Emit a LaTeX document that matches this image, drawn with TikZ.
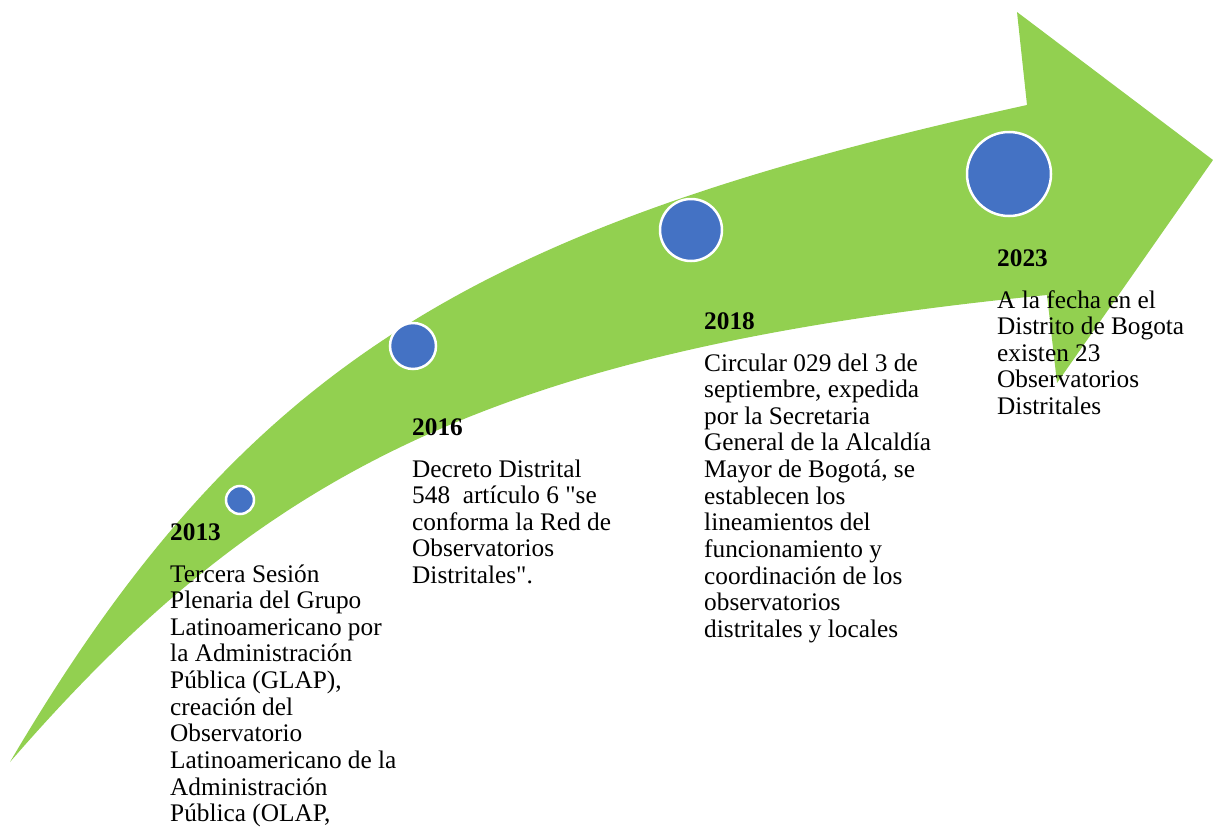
\documentclass[tikz,border=0pt]{standalone}
\usepackage{fontspec}
\setmainfont{Liberation Serif}
\definecolor{arrowgreen}{RGB}{146,208,80}
\definecolor{dotblue}{RGB}{68,114,196}
\tikzset{
yeardot/.style={circle,fill=dotblue,draw=white,line width=2.5pt,inner sep=0pt},
eventtext/.style={anchor=north west,inner sep=0pt,align=left,scale=1.1,transform shape,
  font=\fontsize{23}{24.2}\selectfont}
}

\begin{document}
\begin{tikzpicture}[x=1pt,y=-1pt]
\useasboundingbox (0,0) rectangle (1213,827);
% big curved arrow
\fill[arrowgreen] (10,762) .. controls (245,362) and (477,226) .. (1027,105)
  -- (1017,12) -- (1213,160) -- (1057,383) -- (1047,295)
  .. controls (487,351) and (260,474) .. (10,762) -- cycle;
% dots
\node[yeardot,minimum size=28pt] (d2013) at (240,500) {};
\node[yeardot,minimum size=46pt] (d2016) at (413,346) {};
\node[yeardot,minimum size=62pt] (d2018) at (691,230) {};
\node[yeardot,minimum size=84pt] (d2023) at (1009,174) {};
% texts
\node[eventtext] (t2013) at (170,523) {\textbf{2013}\\[14pt]
Tercera Sesión\\ Plenaria del Grupo\\ Latinoamericano por\\ la Administración\\
Pública (GLAP),\\ creación del\\ Observatorio\\ Latinoamericano de la\\
Administración\\ Pública (OLAP,};
\node[eventtext] (t2016) at (412,418) {\textbf{2016}\\[14pt]
Decreto Distrital\\ 548\ \ artículo 6 \textquotedbl se\\ conforma la Red de\\ Observatorios\\ Distritales\textquotedbl.};
\node[eventtext] (t2018) at (704,312) {\textbf{2018}\\[14pt]
Circular 029 del 3 de\\ septiembre, expedida\\ por la Secretaria\\ General de la Alcaldía\\
Mayor de Bogotá, se\\ establecen los\\ lineamientos del\\ funcionamiento y\\
coordinación de los\\ observatorios\\ distritales y locales};
\node[eventtext] (t2023) at (997,249) {\textbf{2023}\\[14pt]
A la fecha en el\\ Distrito de Bogota\\ existen 23\\ Observatorios\\ Distritales};
\end{tikzpicture}
\end{document}
